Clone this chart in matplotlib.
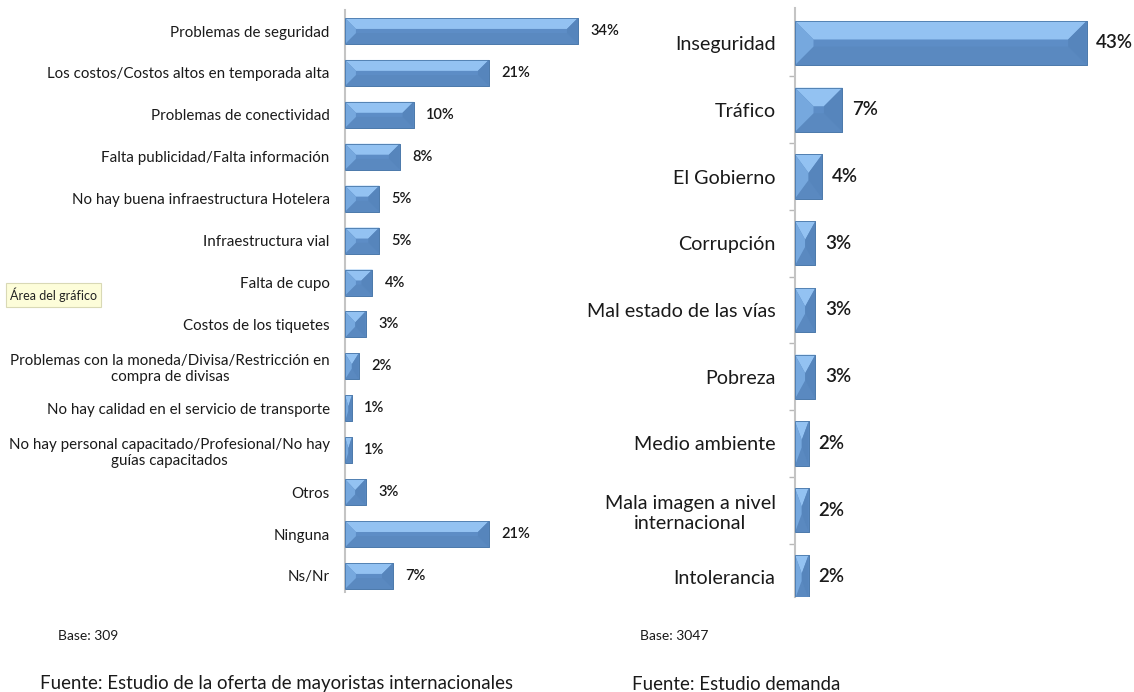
import matplotlib
matplotlib.use("Agg")
from matplotlib import pyplot as plt
from matplotlib.patches import Polygon

plt.rcParams['font.family'] = ['Lato', 'DejaVu Sans']

# datos - oferta (mayoristas internacionales)
oferta_cat = ["Problemas de seguridad",
              "Los costos/Costos altos en temporada alta",
              "Problemas de conectividad",
              "Falta publicidad/Falta información",
              "No hay buena infraestructura Hotelera",
              "Infraestructura vial",
              "Falta de cupo",
              "Costos de los tiquetes",
              "Problemas con la moneda/Divisa/Restricción en\ncompra de divisas",
              "No hay calidad en el servicio de transporte",
              "No hay personal capacitado/Profesional/No hay\nguías capacitados",
              "Otros",
              "Ninguna",
              "Ns/Nr"]
oferta_val = [34, 21, 10, 8, 5, 5, 4, 3, 2, 1, 1, 3, 21, 7]

# datos - demanda
demanda_cat = ["Inseguridad", "Tráfico", "El Gobierno", "Corrupción",
               "Mal estado de las vías", "Pobreza", "Medio ambiente",
               "Mala imagen a nivel\ninternacional", "Intolerancia"]
demanda_val = [43, 7, 4, 3, 3, 3, 2, 2, 2]

W, H, DPI = 11.34, 6.92, 100
fig = plt.figure(figsize=(W, H), dpi=DPI)

c_face = "#5d8dc6"
c_top = "#93c2f2"
c_left = "#76a8de"
c_right = "#5685bc"
c_bot = "#5a89c0"
c_edge = "#4a78aa"


def bevel_bars(ax, vals, height, xmax, ax_w_px, ax_h_px, ylo, yhi):
    px_x = ax_w_px / xmax
    px_y = ax_h_px / abs(ylo - yhi)
    pos = list(range(len(vals)))
    ax.barh(pos, vals, height=height, color=c_face, edgecolor=c_edge,
            linewidth=0.5, zorder=2)
    hpx = height * px_y
    d = 0.42 * hpx
    for y, w in zip(pos, vals):
        dx = min(d / px_x, w / 2)
        dy = d / px_y
        t, b = y - height / 2, y + height / 2
        polys = [
            ([(0, t), (w, t), (w - dx, t + dy), (dx, t + dy)], c_top),
            ([(0, b), (w, b), (w - dx, b - dy), (dx, b - dy)], c_bot),
            ([(0, t), (dx, t + dy), (dx, b - dy), (0, b)], c_left),
            ([(w, t), (w - dx, t + dy), (w - dx, b - dy), (w, b)], c_right),
        ]
        for pts, col in polys:
            ax.add_patch(Polygon(pts, closed=True, facecolor=col,
                                 edgecolor='none', zorder=3))
        ax.add_patch(Polygon([(0, t), (w, t), (w, b), (0, b)], closed=True,
                             facecolor='none', edgecolor=c_edge,
                             linewidth=0.6, zorder=4))


# --- grafico izquierdo ---
l_left, l_w = 345 / 1134, 274 / 1134
l_bot, l_h = 1 - 592 / 692, 582 / 692
ax1 = fig.add_axes([l_left, l_bot, l_w, l_h])
ylo1, yhi1 = 13 + 16 / 41.9, -21 / 41.9
ax1.set_xlim(0, 40)
ax1.set_ylim(ylo1, yhi1)
bevel_bars(ax1, oferta_val, 0.62, 40, 274, 582, ylo1, yhi1)
ax1.set_yticks(range(len(oferta_cat)))
ax1.set_yticklabels(oferta_cat, fontsize=10.9, color="#1a1a1a",
                    multialignment='center')
ax1.tick_params(axis='y', length=0, pad=11)
ax1.set_xticks([])
for s in ['top', 'right', 'bottom']:
    ax1.spines[s].set_visible(False)
ax1.spines['left'].set_color("#c4c4c4")
ax1.spines['left'].set_linewidth(1.5)
for i, v in enumerate(oferta_val):
    ax1.annotate(f"{v}%", (v, i), xytext=(9, 0), textcoords='offset points',
                 va='center', ha='left', fontsize=10.5, fontweight='semibold',
                 color="#1a1a1a")

# --- grafico derecho ---
r_left, r_w = 795 / 1134, 312 / 1134
r_bot, r_h = 1 - 597 / 692, 589 / 692
ax2 = fig.add_axes([r_left, r_bot, r_w, r_h])
ylo2, yhi2 = 8 + 20 / 66.75, -35 / 66.75
ax2.set_xlim(0, 46)
ax2.set_ylim(ylo2, yhi2)
bevel_bars(ax2, demanda_val, 0.66, 46, 312, 589, ylo2, yhi2)
ax2.set_yticks(range(len(demanda_cat)))
ax2.set_yticklabels(demanda_cat, fontsize=14.2, color="#1a1a1a",
                    multialignment='center')
ax2.set_yticks([i + 0.5 for i in range(len(demanda_cat) - 1)], minor=True)
ax2.tick_params(axis='y', which='major', length=0, pad=14)
ax2.tick_params(axis='y', which='minor', length=4, color="#b8b8b8", width=1)
ax2.set_xticks([])
for s in ['top', 'right', 'bottom']:
    ax2.spines[s].set_visible(False)
ax2.spines['left'].set_color("#c4c4c4")
ax2.spines['left'].set_linewidth(1.5)
for i, v in enumerate(demanda_val):
    ax2.annotate(f"{v}%", (v, i), xytext=(7, 0), textcoords='offset points',
                 va='center', ha='left', fontsize=13.5, fontweight='semibold',
                 color="#1a1a1a")

# textos inferiores
fig.text(58 / 1134, 1 - 636 / 692, "Base: 309", fontsize=10, va='center',
         color="#1a1a1a")
fig.text(640 / 1134, 1 - 636 / 692, "Base: 3047", fontsize=10, va='center',
         color="#1a1a1a")
fig.text(40 / 1134, 1 - 684 / 692,
         "Fuente: Estudio de la oferta de mayoristas internacionales",
         fontsize=13.4, va='center', color="#1a1a1a")
fig.text(632 / 1134, 1 - 684 / 692, "Fuente: Estudio demanda",
         fontsize=13.4, va='center', color="#1a1a1a")

# etiqueta emergente
fig.text(10 / 1134, 1 - 295 / 692, "Área del gráfico", fontsize=9,
         va='center', ha='left', color="#222222",
         bbox=dict(boxstyle='square,pad=0.35', facecolor="#fdfdd9",
                   edgecolor="#d9d9b5", linewidth=0.8))

fig.savefig("out.png", dpi=DPI)
